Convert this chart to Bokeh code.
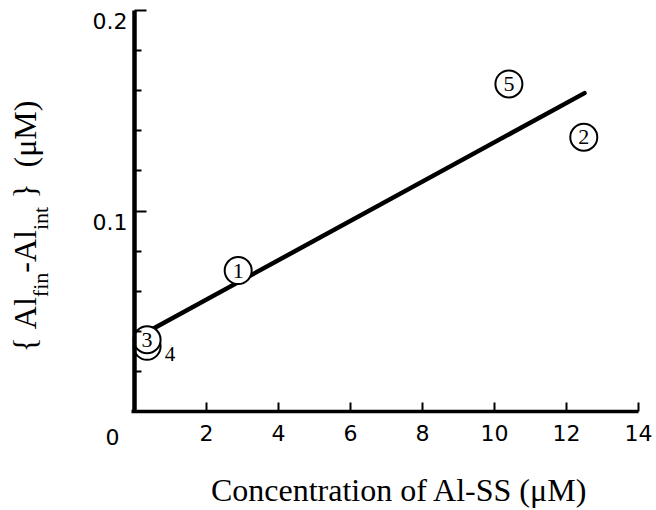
from math import pi
from bokeh.plotting import figure
from bokeh.models import Range1d, FixedTicker, Label
from bokeh.core.properties import value
from bokeh.embed import file_html
from bokeh.resources import INLINE

# ---- data ----
point_ids = ["1", "2", "3", "4", "5"]
conc_x = [2.88, 12.48, 0.35, 0.35, 10.4]
delta_y = [0.0703, 0.1368, 0.0358, 0.0325, 0.1634]
fit_x = [0.35, 12.5]
fit_y = [0.0397, 0.1588]
x_ticks = [2, 4, 6, 8, 10, 12, 14]
y_major = [0.1, 0.2]
y_minor = [0.02, 0.04, 0.06, 0.08, 0.12, 0.14, 0.16, 0.18]
y_tick_labels = ["0.1", "0.2"]

SANS = "DejaVu Sans"
SERIF = "Liberation Serif"

# page pixel -> data helpers (x = 0 at px 134, 36 px per unit; y = 0 at px 411, 2005 px per unit)
def X(px):
    return (px - 134) / 36.0


def Y(py):
    return (411 - py) / 2005.0


W_PX, H_PX = 656, 510
p = figure(width=W_PX, height=H_PX, output_backend="svg", toolbar_location=None,
           x_range=Range1d(X(0), X(W_PX)), y_range=Range1d(Y(H_PX), Y(0)),
           min_border=0)
p.outline_line_color = None
p.xgrid.visible = False
p.ygrid.visible = False
p.background_fill_color = "white"

# x axis (drawn at y = 0)
xa = p.xaxis[0]
xa.fixed_location = 0
xa.bounds = (-0.07, 14)
xa.ticker = FixedTicker(ticks=x_ticks)
xa.axis_line_width = 3.5
xa.axis_line_color = "black"
xa.major_tick_in = 9
xa.major_tick_out = 0
xa.major_tick_line_width = 2
xa.minor_tick_line_color = None
xa.major_label_text_font = SANS
xa.major_label_text_font_size = "22px"
xa.major_label_text_color = "black"
xa.major_label_standoff = 13

# y axis (drawn at x = 0)
ya = p.yaxis[0]
ya.fixed_location = 0
ya.bounds = (0, 0.2)
ya.ticker = FixedTicker(ticks=y_major, minor_ticks=y_minor)
ya.axis_line_width = 4.5
ya.axis_line_color = "black"
ya.major_tick_in = 12
ya.major_tick_out = 0
ya.minor_tick_in = 7
ya.minor_tick_out = 0
ya.major_tick_line_width = 2
ya.minor_tick_line_width = 2
ya.major_label_overrides = {t: "" for t in y_major}

# regression line
p.line(fit_x, fit_y, line_width=4.5, line_color="black", line_cap="round")

# circles: point 4 first so point 3 covers it
order = [3, 0, 1, 2, 4]
p.scatter([conc_x[i] for i in order], [delta_y[i] for i in order], size=27,
          fill_color="white", line_color="black", line_width=2)
inside = [0, 1, 2, 4]
p.text([conc_x[i] for i in inside], [delta_y[i] for i in inside],
       text=[point_ids[i] for i in inside], text_align="center", text_baseline="middle",
       text_font=value(SERIF), text_font_size="22px", text_color="black")
p.text([conc_x[3]], [delta_y[3]], text=[point_ids[3]], x_offset=23, y_offset=8,
       text_align="center", text_baseline="middle",
       text_font=value(SERIF), text_font_size="21px", text_color="black")

# y tick labels (placed slightly below the ticks like the original)
for lab, py in zip(y_tick_labels, [221, 20]):
    p.add_layout(Label(x=X(127), y=Y(py), text=lab, text_align="right", text_baseline="middle",
                       text_font=SANS, text_font_size="22px", text_color="black"))
# "0" x label, shifted left of the axis
p.add_layout(Label(x=X(112), y=Y(436), text="0", text_align="center", text_baseline="middle",
                   text_font=SANS, text_font_size="22px", text_color="black"))

# x axis title
p.add_layout(Label(x=X(403), y=Y(489), text="Concentration of Al-SS  (\u03bcM)",
                   text_align="center", text_baseline="middle",
                   text_font=SERIF, text_font_size="32px", text_color="black"))

# y axis title, composed of pieces (rotated)
W = {"{": 0.48, "}": 0.48, "A": 0.722, "l": 0.278, "f": 0.333, "i": 0.278, "n": 0.5,
     "t": 0.278, "-": 0.333, "(": 0.333, ")": 0.333, "\u03bc": 0.576, "M": 0.889, " ": 0.25}
main_fs, sub_fs = 32, 22
base_x, sub_x = 24, 40
pieces = [("{", main_fs, False), (" ", main_fs, None), ("Al", main_fs, False),
          ("fin", sub_fs, True), ("-", main_fs, False), ("Al", main_fs, False),
          ("int", sub_fs, True), (" ", main_fs, None), ("}", main_fs, False),
          ("  ", main_fs, None), ("(\u03bcM)", main_fs, False)]
cursor = 352.0
for txt, fs, sub in pieces:
    w = sum(W.get(c, 0.5) for c in txt) * fs
    if sub is not None:
        bx = sub_x if sub else base_x
        p.add_layout(Label(x=X(bx), y=Y(cursor), text=txt, angle=pi / 2,
                           text_align="left", text_baseline="middle",
                           text_font=SERIF, text_font_size=f"{fs}px", text_color="black"))
    cursor -= w

open("out.html", "w").write(file_html(p, INLINE))
